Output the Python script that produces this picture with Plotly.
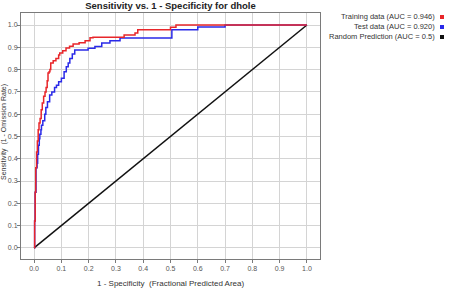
import plotly.graph_objects as go

train_fpr = [0, 0.002, 0.004, 0.006, 0.009, 0.012, 0.015, 0.018, 0.022, 0.026, 0.030, 0.035,
             0.040, 0.044, 0.048, 0.051, 0.055, 0.058, 0.061, 0.070, 0.080, 0.090, 0.094, 0.105,
             0.117, 0.130, 0.143, 0.165, 0.187, 0.205, 0.216, 0.32, 0.33, 0.37, 0.38, 0.486,
             0.50, 0.52, 1.0]
train_tpr = [0, 0.12, 0.25, 0.36, 0.43, 0.48, 0.53, 0.56, 0.58, 0.62, 0.65, 0.68,
             0.70, 0.72, 0.75, 0.785, 0.79, 0.80, 0.83, 0.84, 0.85, 0.865, 0.874, 0.885,
             0.897, 0.905, 0.915, 0.92, 0.93, 0.943, 0.945, 0.945, 0.955, 0.964, 0.979, 0.979,
             0.99, 1.0, 1.0]

test_fpr = [0, 0.002, 0.004, 0.007, 0.011, 0.013, 0.016, 0.019, 0.021, 0.025, 0.027, 0.032,
            0.039, 0.043, 0.049, 0.057, 0.065, 0.075, 0.082, 0.090, 0.100, 0.110, 0.118, 0.125,
            0.131, 0.140, 0.149, 0.198, 0.223, 0.248, 0.278, 0.315, 0.498, 0.505, 0.596, 0.60,
            0.70, 0.70, 1.0]
test_tpr = [0, 0.12, 0.25, 0.36, 0.38, 0.42, 0.46, 0.49, 0.51, 0.53, 0.55, 0.57,
            0.60, 0.63, 0.656, 0.686, 0.70, 0.72, 0.73, 0.745, 0.761, 0.79, 0.813, 0.83,
            0.85, 0.87, 0.888, 0.896, 0.904, 0.919, 0.93, 0.942, 0.942, 0.979, 0.979, 0.991,
            0.991, 1.0, 1.0]

random_x = [0, 1]
random_y = [0, 1]

ticks = [round(i * 0.1, 1) for i in range(11)]
tick_text = [f"{t:.1f}" for t in ticks]

legend_labels = ["Training data (AUC = 0.946)", "Test data (AUC = 0.920)",
                 "Random Prediction (AUC = 0.5)"]
colors = ["#e8262a", "#2a2ae8", "#111111"]

FONT = "Liberation Sans, Arial, sans-serif"

fig = go.Figure()
fig.add_trace(go.Scatter(x=random_x, y=random_y, mode="lines",
                         line=dict(color=colors[2], width=1.5), name=legend_labels[2]))
fig.add_trace(go.Scatter(x=test_fpr, y=test_tpr, mode="lines", line_shape="hv",
                         line=dict(color=colors[1], width=1.5), name=legend_labels[1]))
fig.add_trace(go.Scatter(x=train_fpr, y=train_tpr, mode="lines", line_shape="hv",
                         line=dict(color=colors[0], width=1.5), name=legend_labels[0]))

axis_common = dict(
    tickvals=ticks, ticktext=tick_text, showgrid=True, gridcolor="#d4d4d4", gridwidth=1,
    zeroline=False, showline=True, linecolor="#7a7a7a", linewidth=1, mirror=True,
    ticks="outside", ticklen=3, tickcolor="#7a7a7a", automargin=False,
    tickfont=dict(family=FONT, size=7, color="#555555"),
    range=[-0.048, 1.048],
)

PL, PR, PT, PB = 21, 320, 13, 259
PW, PH = PR - PL, PB - PT

fig.update_layout(
    width=449, height=292,
    margin=dict(l=PL, r=449 - PR, t=PT, b=292 - PB),
    paper_bgcolor="white", plot_bgcolor="white",
    showlegend=False,
    title=dict(text="<b>Sensitivity vs. 1 - Specificity for dhole</b>",
               x=(PL + PR) / 2 / 449, xanchor="center", y=1 - 6 / 292, yanchor="middle",
               font=dict(family=FONT, size=9.5, color="#222222")),
    xaxis=axis_common,
    yaxis=dict(axis_common, range=[-0.05, 1.054], ticklabelstandoff=-2),
)

def px_x(p):
    return (p - PL) / PW

def px_y(p):
    return 1 - (p - PT) / PH

# axis titles
fig.add_annotation(text="1 - Specificity  (Fractional Predicted Area)", xref="paper", yref="paper",
                   x=px_x(171), y=px_y(283), xanchor="center", yanchor="middle",
                   showarrow=False, font=dict(family=FONT, size=8, color="#333333"))
fig.add_annotation(text="Sensitivity  (1 - Omission Rate)", xref="paper", yref="paper",
                   x=px_x(4), y=px_y(132), xanchor="center", yanchor="middle", textangle=-90,
                   borderpad=0, showarrow=False, font=dict(family=FONT, size=7, color="#333333"))

legend_y = [17, 27, 37]
for lbl, col, yy in zip(legend_labels, colors, legend_y):
    fig.add_annotation(text=lbl, xref="paper", yref="paper",
                       x=px_x(437), y=px_y(yy),
                       xanchor="right", yanchor="middle", showarrow=False,
                       font=dict(family=FONT, size=7.5, color="#333333"))
    fig.add_shape(type="rect", xref="paper", yref="paper",
                  x0=px_x(440), x1=px_x(444),
                  y0=px_y(yy + 2), y1=px_y(yy - 2),
                  fillcolor=col, line=dict(width=0))

fig.write_html("out.html")
